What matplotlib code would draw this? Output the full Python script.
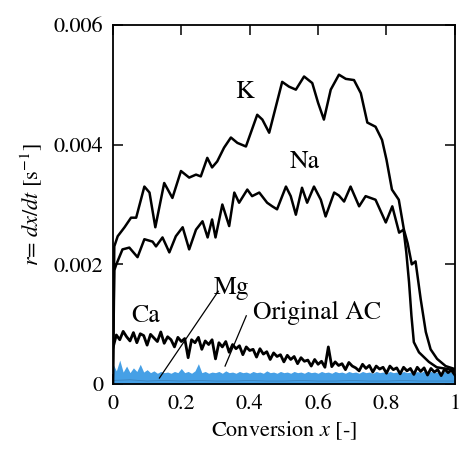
import numpy as np
import matplotlib
matplotlib.use("Agg")
import matplotlib.pyplot as plt

plt.rcParams['font.family'] = ['STIXGeneral', 'DejaVu Serif']
plt.rcParams['mathtext.fontset'] = 'stix'

# K (potassium-loaded AC)
k_x = [0.0, 0.004, 0.014, 0.034, 0.053, 0.068, 0.092, 0.107, 0.124, 0.15, 0.174,
       0.199, 0.223, 0.243, 0.257, 0.276, 0.29, 0.305, 0.325, 0.345, 0.364, 0.389,
       0.422, 0.437, 0.457, 0.495, 0.515, 0.535, 0.559, 0.583, 0.6, 0.617, 0.637,
       0.661, 0.681, 0.705, 0.725, 0.744, 0.768, 0.787, 0.8, 0.816, 0.836, 0.851,
       0.862, 0.874, 0.885, 0.9, 0.915, 0.929, 0.948, 0.973, 1.0]
k_y = [0.0, 0.0023, 0.00247, 0.00262, 0.00278, 0.00278, 0.0033, 0.0032, 0.00262,
       0.00336, 0.00311, 0.00356, 0.00345, 0.0035, 0.00347, 0.00378, 0.00362,
       0.00372, 0.00395, 0.00412, 0.00403, 0.00397, 0.0045, 0.00442, 0.0042,
       0.00505, 0.00497, 0.00492, 0.00514, 0.00503, 0.0047, 0.00442, 0.00492,
       0.00517, 0.0051, 0.00508, 0.00486, 0.00437, 0.0043, 0.00408, 0.00375,
       0.00325, 0.00308, 0.00258, 0.00235, 0.002, 0.00205, 0.00142, 0.00087,
       0.00058, 0.00042, 0.0003, 0.00025]

# Na
na_x = [0.0, 0.004, 0.01, 0.028, 0.048, 0.072, 0.092, 0.116, 0.126, 0.145, 0.165,
        0.184, 0.204, 0.223, 0.243, 0.262, 0.277, 0.29, 0.3, 0.32, 0.34, 0.355,
        0.369, 0.393, 0.407, 0.428, 0.451, 0.466, 0.48, 0.506, 0.52, 0.535, 0.553,
        0.568, 0.588, 0.608, 0.622, 0.647, 0.661, 0.676, 0.695, 0.72, 0.739, 0.768,
        0.798, 0.817, 0.837, 0.85, 0.858, 0.866, 0.873, 0.88, 0.895, 0.924, 0.947,
        0.98, 1.0]
na_y = [0.0, 0.0019, 0.002, 0.00225, 0.00228, 0.00212, 0.00242, 0.00238, 0.0023,
        0.00245, 0.0022, 0.00247, 0.00262, 0.00225, 0.00258, 0.00272, 0.00245,
        0.00275, 0.00245, 0.003, 0.00264, 0.0032, 0.00303, 0.00325, 0.00314,
        0.0032, 0.00303, 0.00297, 0.00292, 0.0033, 0.00314, 0.00283, 0.00328,
        0.00303, 0.0033, 0.00308, 0.0028, 0.0032, 0.00315, 0.00305, 0.0033,
        0.00297, 0.00314, 0.00308, 0.0027, 0.00297, 0.00253, 0.00258, 0.0022,
        0.0017, 0.00114, 0.0007, 0.00053, 0.00037, 0.00028, 0.00025, 0.00022]

# Ca, sampled every 0.01 in x (noisy band)
ca_y = [0.0006, 0.00082, 0.00074, 0.00088, 0.00079, 0.00072, 0.00086, 0.00069, 0.00084,
        0.00081, 0.00065, 0.00083, 0.00077, 0.00071, 0.00087, 0.00068, 0.00079, 0.00074,
        0.00062, 0.00078, 0.00071, 0.00076, 0.00044, 0.00074, 0.00069, 0.00078, 0.00058,
        0.00072, 0.00066, 0.00074, 0.00042, 0.00069, 0.00062, 0.00071, 0.00053, 0.00066,
        0.00059, 0.00064, 0.00049, 0.00062, 0.00056, 0.00058, 0.00045, 0.00059, 0.0005,
        0.00054, 0.00041, 0.00052, 0.00046, 0.00049, 0.00037, 0.00048, 0.00041, 0.00046,
        0.00034, 0.00044, 0.00038, 0.0004, 0.0003, 0.00041, 0.00033, 0.00038, 0.00028,
        0.00062, 0.00029, 0.00037, 0.00031, 0.00034, 0.00024, 0.00036, 0.0003, 0.00027,
        0.00022, 0.00033, 0.00026, 0.00031, 0.0002, 0.0003, 0.00025, 0.00028, 0.00018,
        0.0003, 0.00024, 0.00027, 0.00017, 0.00028, 0.00022, 0.00026, 0.00016, 0.00028,
        0.00021, 0.00027, 0.00015, 0.00026, 0.0002, 0.00024, 0.00014, 0.00025, 0.00019,
        0.00023, 0.00015]
ca_x = np.linspace(0, 1, len(ca_y))

# Original AC (blue fill), sampled every 0.01 in x
ac_y = [0.00034, 0.00022, 0.0004, 0.0002, 0.0003, 0.00019, 0.00027, 0.00021, 0.00033,
        0.0002, 0.00024, 0.00019, 0.00022, 0.00018, 0.00021, 0.00019, 0.0002, 0.00018,
        0.00021, 0.00019, 0.00026, 0.00019, 0.00021, 0.00018, 0.00022, 0.00034, 0.00019,
        0.00021, 0.00018, 0.0002, 0.00019, 0.00021, 0.00018, 0.00022, 0.00019, 0.0002,
        0.00018, 0.00021, 0.00019, 0.0002, 0.00018, 0.00021, 0.00019, 0.0002, 0.00018,
        0.00022, 0.00019, 0.0002, 0.00018, 0.00021, 0.00019, 0.0002, 0.00018, 0.00021,
        0.00019, 0.0002, 0.00018, 0.00021, 0.00019, 0.0002, 0.00018, 0.00021, 0.00019,
        0.0002, 0.00018, 0.00021, 0.00019, 0.0002, 0.00018, 0.00021, 0.00019, 0.0002,
        0.00018, 0.00021, 0.00019, 0.0002, 0.00018, 0.00021, 0.00019, 0.0002, 0.00018,
        0.00021, 0.00019, 0.0002, 0.00018, 0.00021, 0.00019, 0.0002, 0.00018, 0.00021,
        0.00019, 0.00022, 0.00018, 0.00021, 0.00019, 0.0002, 0.00018, 0.00021, 0.00019,
        0.0002, 0.00019]
ac_x = np.linspace(0, 1, len(ac_y))

# Mg, sampled every 0.05 in x
mg_y = [0.00006, 0.00007, 0.00005, 0.00006, 0.00005, 0.00006, 0.00005, 0.00005, 0.00006,
        0.00005, 0.00005, 0.00006, 0.00005, 0.00005, 0.00006, 0.00005, 0.00005, 0.00006,
        0.00005, 0.00005, 0.00005]
mg_x = np.linspace(0, 1, len(mg_y))

x_ticks = [0, 0.2, 0.4, 0.6, 0.8, 1]
x_ticklabels = ['0', '0.2', '0.4', '0.6', '0.8', '1']
y_ticks = [0, 0.002, 0.004, 0.006]
y_ticklabels = ['0', '0.002', '0.004', '0.006']

fig = plt.figure(figsize=(4.59, 4.55), dpi=100)
ax = fig.add_axes([0.246, 0.156, 0.745, 0.789])

ax.fill_between(ac_x, 0, ac_y, color='#46a0e6', lw=0, zorder=2)
ax.plot(mg_x, mg_y, color='#1a2a40', lw=0.6, alpha=0.25, zorder=3)
ax.plot(ca_x, ca_y, color='black', lw=2.0, zorder=3)
ax.plot(na_x, na_y, color='black', lw=1.8, zorder=4)
ax.plot(k_x, k_y, color='black', lw=1.8, zorder=4)

fs = 16
afs = 18.5
ax.text(0.384, 0.00488, 'K', fontsize=afs, ha='center', va='center')
ax.text(0.562, 0.00371, 'Na', fontsize=afs, ha='center', va='center')
ax.text(0.095, 0.00114, 'Ca', fontsize=afs, ha='center', va='center')
ax.text(0.346, 0.0016, 'Mg', fontsize=afs, ha='center', va='center')
ax.text(0.597, 0.00119, 'Original AC', fontsize=afs, ha='center', va='center')
ax.plot([0.308, 0.136], [0.00155, 0.0001], color='black', lw=0.9, zorder=5)
ax.plot([0.39, 0.328], [0.00114, 0.0003], color='black', lw=0.9, zorder=5)

ax.set_xlim(0, 1)
ax.set_ylim(0, 0.006)
ax.set_xticks(x_ticks)
ax.set_xticklabels(x_ticklabels)
ax.set_yticks(y_ticks)
ax.set_yticklabels(y_ticklabels)
ax.tick_params(direction='in', length=7, width=1.1, labelsize=fs,
               top=True, right=True, pad=7)
for s in ax.spines.values():
    s.set_linewidth(1.3)

ax.set_xlabel('Conversion $x$ [-]', fontsize=fs, labelpad=4)
ax.set_ylabel('$r$= $dx/dt$ [s$^{-1}$]', fontsize=fs, labelpad=6)

fig.savefig('out.png', dpi=100)
